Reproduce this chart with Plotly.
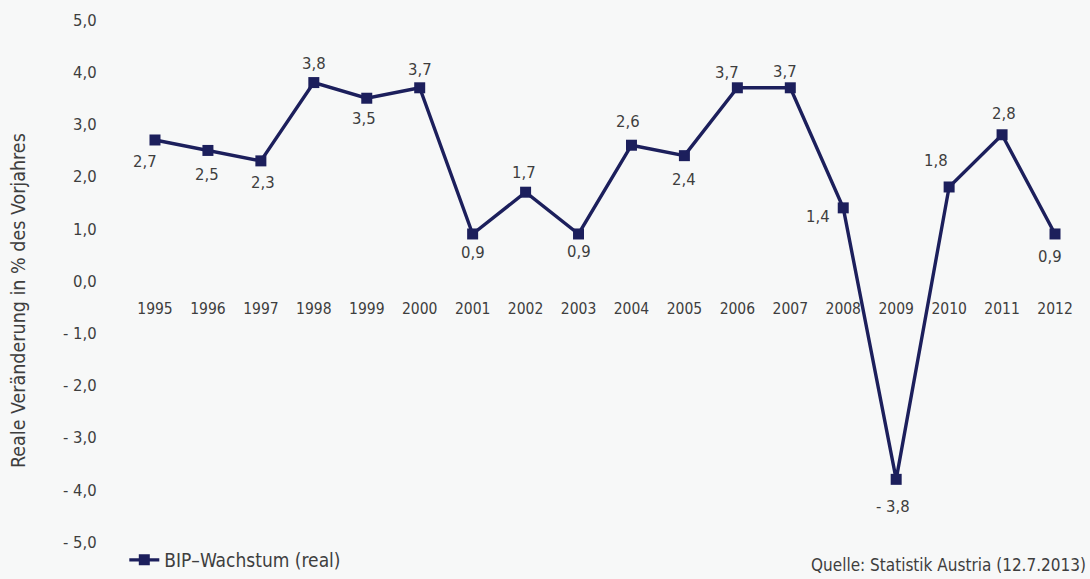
import plotly.graph_objects as go

# BIP-Wachstum Österreich, reale Veränderung in % des Vorjahres
years = [1995, 1996, 1997, 1998, 1999, 2000, 2001, 2002, 2003,
         2004, 2005, 2006, 2007, 2008, 2009, 2010, 2011, 2012]
growth = [2.7, 2.5, 2.3, 3.8, 3.5, 3.7, 0.9, 1.7, 0.9,
          2.6, 2.4, 3.7, 3.7, 1.4, -3.8, 1.8, 2.8, 0.9]

y_ticks = [5, 4, 3, 2, 1, 0, -1, -2, -3, -4, -5]

# pixel offsets (dx, dy; dy downwards) of each value label from its marker
label_offsets = [(-10, 22), (-1, 24), (2, 22), (0, -19), (-3, 20), (0, -18),
                 (0, 19), (-2, -20), (0, 18), (-3, -24), (0, 24), (-10, -15),
                 (-5, -16), (-25, 9), (-3, 27), (-13, -26), (2, -21), (-5, 23)]


def fmt(v):
    s = f"{abs(v):.1f}".replace(".", ",")
    return ("- " + s) if v < 0 else s


LINE = "#1c1f5c"
TEXT = "#3e3e3e"
FONT = "DejaVu Sans Condensed"

# plot area runs to the bottom edge so the legend row sits inside it
Y_LOW, Y_HIGH = -5.709, 5.19
ZERO_PAPER = 0.5237

fig = go.Figure()
fig.add_trace(go.Scatter(
    x=years, y=growth,
    mode="lines+markers",
    name="BIP\u2013Wachstum (real)",
    line=dict(color=LINE, width=3.4),
    marker=dict(symbol="square", size=11, color=LINE),
    cliponaxis=False,
))

annotations = [
    dict(x=x, y=v, xref="x", yref="y", text=fmt(v), showarrow=False,
         xanchor="center", yanchor="middle", xshift=dx, yshift=-dy,
         font=dict(family=FONT, size=16.5, color=TEXT))
    for x, v, (dx, dy) in zip(years, growth, label_offsets)
]
annotations.append(dict(
    text="Quelle: Statistik Austria (12.7.2013)",
    xref="paper", yref="paper", x=1.008, y=0.0246,
    xanchor="right", yanchor="middle", showarrow=False,
    font=dict(family=FONT, size=17, color=TEXT),
))
annotations.append(dict(
    text="Reale Veränderung in % des Vorjahres",
    xref="paper", yref="paper", x=-0.118, y=0.49,
    xanchor="center", yanchor="middle", showarrow=False, textangle=-90,
    font=dict(family=FONT, size=19.5, color=TEXT),
))

fig.update_layout(
    width=1090, height=579,
    margin=dict(l=130, r=10, t=10, b=0),
    paper_bgcolor="#f7f8f8",
    plot_bgcolor="#f7f8f8",
    font=dict(family=FONT, size=16, color=TEXT),
    showlegend=True,
    legend=dict(
        orientation="h", x=-0.006, xanchor="left", y=0.0, yanchor="bottom",
        bgcolor="rgba(0,0,0,0)",
        font=dict(family=FONT, size=19, color=TEXT),
        itemwidth=30,
    ),
    xaxis=dict(
        range=[1994.528, 2012.472],
        tickvals=years,
        ticktext=[str(y) for y in years],
        showgrid=False, zeroline=False, showline=False,
        anchor="free", position=ZERO_PAPER,
        ticks="outside", ticklen=13, tickcolor="rgba(0,0,0,0)",
        tickfont=dict(family=FONT, size=15.5, color=TEXT),
    ),
    yaxis=dict(
        range=[Y_LOW, Y_HIGH],
        tickvals=y_ticks,
        ticktext=[fmt(v) for v in y_ticks],
        showgrid=False, zeroline=False, showline=False,
        ticks="outside", ticklen=29, tickcolor="rgba(0,0,0,0)",
        tickfont=dict(family=FONT, size=16.5, color=TEXT),
    ),
    annotations=annotations,
)

fig.write_html("out.html")
